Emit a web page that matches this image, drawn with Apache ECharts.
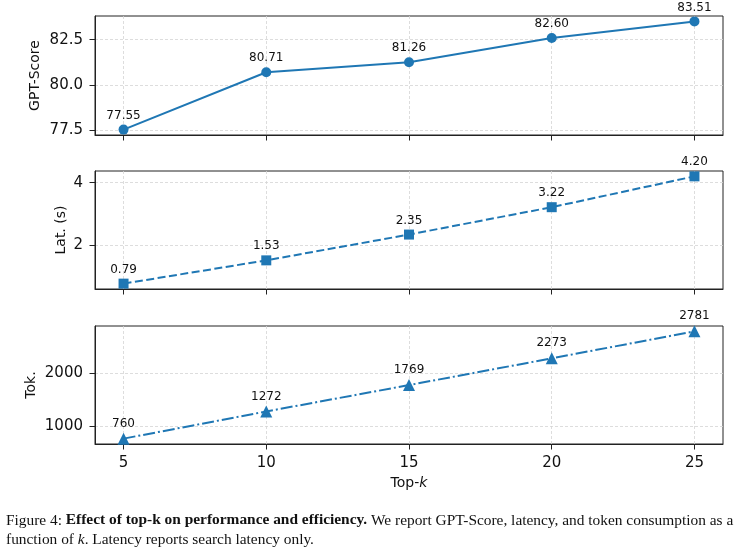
<!DOCTYPE html>
<html>
<head>
<meta charset="utf-8">
<script src="https://cdn.jsdelivr.net/npm/echarts@6/dist/echarts.min.js"></script>
<style>html,body{margin:0;padding:0;background:#fff}#c{width:739px;height:554px}</style>
</head>
<body>
<div id="c"></div>
<script>
const topK = [5, 10, 15, 20, 25];
const gptScore = [77.55, 80.71, 81.26, 82.60, 83.51];
const latency = [0.79, 1.53, 2.35, 3.22, 4.20];
const tokens = [760, 1272, 1769, 2273, 2781];
const xTicks = [5, 10, 15, 20, 25];
const gptTicks = [77.5, 80.0, 82.5];
const latTicks = [2, 4];
const tokTicks = [1000, 2000];

const blue = '#1f77b4';
const font = 'DejaVu Sans';

function pad(arr) {
  const mn = Math.min(...arr), mx = Math.max(...arr), m = (mx - mn) * 0.05;
  return [mn - m, mx + m];
}
const xr = pad(topK);
const grids = [
  {left: 95, right: 16, top: 16, height: 119},
  {left: 95, right: 16, top: 171, height: 118},
  {left: 95, right: 16, top: 326, height: 118}
].map(g => Object.assign(g, {show: true, borderColor: '#222', borderWidth: 1, backgroundColor: 'transparent'}));

const splitLine = {show: true, lineStyle: {color: '#d4d4d4', width: 0.8, type: [3, 2]}};

function xAxis(i, showLabel) {
  return {
    type: 'value', gridIndex: i, min: xr[0], max: xr[1],
    axisLine: {show: true, lineStyle: {color: '#222', width: 1}},
    axisTick: {show: true, length: 5.5, lineStyle: {color: '#222'}, customValues: xTicks},
    axisLabel: {show: showLabel, customValues: xTicks, color: '#111', fontFamily: font, fontSize: 15, margin: 12},
    splitLine: splitLine,
    name: showLabel ? 'Top-{i|k}' : '',
    nameLocation: 'middle', nameGap: 32, nameMoveOverlap: false,
    nameTextStyle: {color: '#111', fontFamily: font, fontSize: 14,
      rich: {i: {fontStyle: 'italic', fontFamily: font, fontSize: 14, color: '#111'}}}
  };
}
function yAxis(i, data, ticks, name, gap, fmt) {
  const r = pad(data);
  return {
    type: 'value', gridIndex: i, min: r[0], max: r[1],
    axisLine: {show: true, lineStyle: {color: '#222', width: 1}},
    axisTick: {show: true, length: 5.5, lineStyle: {color: '#222'}, customValues: ticks},
    axisLabel: {customValues: ticks, color: '#111', fontFamily: font, fontSize: 15, margin: 12, formatter: fmt},
    splitLine: splitLine,
    name: name, nameLocation: 'middle', nameRotate: 90, nameGap: gap, nameMoveOverlap: false,
    nameTextStyle: {color: '#111', fontFamily: font, fontSize: 14}
  };
}
function series(i, data, symbol, size, dash, fmt) {
  return {
    type: 'line', xAxisIndex: i, yAxisIndex: i,
    data: topK.map((k, j) => [k, data[j]]),
    symbol: symbol, symbolSize: size,
    itemStyle: {color: blue},
    lineStyle: {color: blue, width: 2, type: dash},
    label: {show: true, position: 'top', distance: 3, color: '#111', fontFamily: font, fontSize: 12,
      formatter: p => fmt(p.value[1])},
    animation: false, silent: true
  };
}

const chart = echarts.init(document.getElementById('c'), null, {renderer: 'canvas'});
chart.setOption({
  animation: false,
  backgroundColor: '#fff',
  grid: grids,
  xAxis: [xAxis(0, false), xAxis(1, false), xAxis(2, true)],
  yAxis: [
    yAxis(0, gptScore, gptTicks, 'GPT-Score', 53, v => v.toFixed(1)),
    yAxis(1, latency, latTicks, 'Lat. (s)', 27, v => String(v)),
    yAxis(2, tokens, tokTicks, 'Tok.', 57, v => String(v))
  ],
  series: [
    series(0, gptScore, 'circle', 10, 'solid', v => v.toFixed(2)),
    series(1, latency, 'rect', 10, [8, 3.5], v => v.toFixed(2)),
    series(2, tokens, 'triangle', 12, [12, 3, 2, 3], v => String(Math.round(v)))
  ],
  graphic: [
    {type: 'text', left: 6, top: 513, style: {
      text: 'Figure 4: {b|Effect of top-k on performance and efficiency.} We report GPT-Score, latency, and token consumption as a',
      fontFamily: 'Liberation Serif', fontSize: 15.4, fill: '#111',
      rich: {b: {fontWeight: 'bold', fontFamily: 'Liberation Serif', fontSize: 15.4, fill: '#111'}}
    }},
    {type: 'text', left: 6, top: 532, style: {
      text: 'function of {i|k}. Latency reports search latency only.',
      fontFamily: 'Liberation Serif', fontSize: 15.4, fill: '#111',
      rich: {i: {fontStyle: 'italic', fontFamily: 'Liberation Serif', fontSize: 15.4, fill: '#111'}}
    }}
  ]
});
</script>
</body>
</html>
